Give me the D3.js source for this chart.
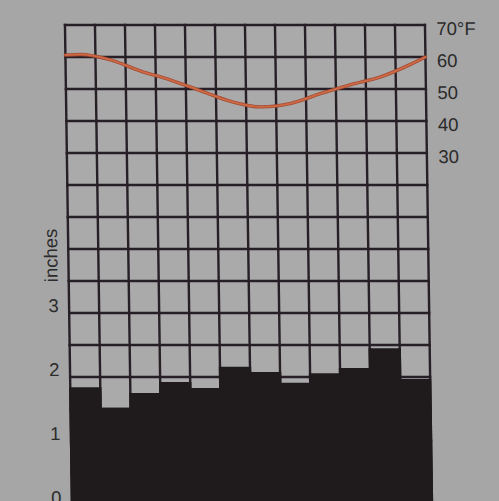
<!DOCTYPE html>
<html>
<head>
<meta charset="utf-8">
<script src="https://cdn.jsdelivr.net/npm/d3@7"></script>
<style>
  html, body { margin: 0; padding: 0; background: #a6a6a6; overflow: hidden; }
  svg { display: block; }
</style>
</head>
<body>
<svg id="chart" width="499" height="501"></svg>
<script>
// ---- data ----
const months = ["Jan","Feb","Mar","Apr","May","Jun","Jul","Aug","Sep","Oct","Nov","Dec"];
const precipInches = [1.84, 1.52, 1.75, 1.92, 1.83, 2.16, 2.08, 1.91, 2.06, 2.14, 2.45, 1.97];
const tempF = [60.8, 59.1, 55.6, 52.8, 49.4, 46.1, 44.4, 45.5, 48.6, 51.4, 53.8, 57.7];
const tempEdgeValues = [60.6, 60.0];  // where the line meets the left and right borders
const tempTicks = [70, 60, 50, 40, 30];
const tempTickLabels = ["70°F", "60", "50", "40", "30"];
const precipTicks = [0, 1, 2, 3];
const precipGridStep = 0.5;
const precipMax = 7.5;
const tempDomain = [-80, 70];
const axisTitle = "inches";

// ---- layout ----
const svg = d3.select("#chart");
const g = svg.append("g").attr("transform", "skewX(0.84)");

const x = d3.scaleBand().domain(months).range([64.6, 424.6]).padding(0);
const yP = d3.scaleLinear().domain([0, precipMax]).range([505, 25]);
const yT = d3.scaleLinear().domain(tempDomain).range([505, 25]);

const [x0, x1] = x.range();
const gridColor = "#271f26";

// plot area
g.append("rect")
  .attr("x", x0).attr("y", yP(precipMax))
  .attr("width", x1 - x0).attr("height", yP(0) - yP(precipMax))
  .attr("fill", "#aaaaab");

// horizontal grid lines
const hVals = d3.range(0, precipMax + precipGridStep / 2, precipGridStep);
g.append("g").selectAll("line").data(hVals).join("line")
  .attr("x1", x0 - 1.2).attr("x2", x1 + 1.2)
  .attr("y1", d => yP(d)).attr("y2", d => yP(d))
  .attr("stroke", gridColor).attr("stroke-width", 2.4);

// vertical grid lines
const vVals = months.map(m => x(m)).concat([x1]);
g.append("g").selectAll("line").data(vVals).join("line")
  .attr("x1", d => d).attr("x2", d => d)
  .attr("y1", yP(precipMax) - 1.2).attr("y2", yP(0))
  .attr("stroke", gridColor).attr("stroke-width", 2.4);

// precipitation bars
g.append("g").selectAll("rect").data(months).join("rect")
  .attr("x", m => x(m) - 1.2)
  .attr("width", x.bandwidth() + 2.4)
  .attr("y", (m, i) => yP(precipInches[i]))
  .attr("height", (m, i) => yP(0) - yP(precipInches[i]))
  .attr("fill", "#1f1b1c");

// temperature line
const pts = [[x0, tempEdgeValues[0]]]
  .concat(months.map((m, i) => [x(m) + x.bandwidth() / 2, tempF[i]]))
  .concat([[x1, tempEdgeValues[1]]]);
const line = d3.line().x(d => d[0]).y(d => yT(d[1])).curve(d3.curveMonotoneX);
g.append("path").datum(pts)
  .attr("d", line)
  .attr("fill", "none")
  .attr("stroke", "#a44b35")
  .attr("stroke-width", 3.4)
  .attr("stroke-linecap", "round");
g.append("path").datum(pts)
  .attr("d", line)
  .attr("fill", "none")
  .attr("stroke", "#cd6a44")
  .attr("stroke-width", 1.8)
  .attr("stroke-linecap", "round");

// right temperature axis
const fontFam = "'Liberation Sans', Arial, Helvetica, sans-serif";
const rAxis = g.append("g").attr("transform", "translate(436,0)")
  .call(d3.axisRight(yT).tickValues(tempTicks).tickSize(0).tickPadding(0)
    .tickFormat((d, i) => tempTickLabels[i]));
rAxis.select(".domain").remove();
rAxis.selectAll("text")
  .attr("dy", "0.5em")
  .attr("fill", "#2b2b2b")
  .style("font-family", fontFam)
  .style("font-size", "18.5px");

// left precipitation axis
const lAxis = g.append("g").attr("transform", "translate(49,0)")
  .call(d3.axisLeft(yP).tickValues(precipTicks).tickSize(0).tickPadding(0));
lAxis.select(".domain").remove();
lAxis.selectAll("text")
  .attr("x", 0)
  .attr("text-anchor", "middle")
  .attr("dy", "-2px")
  .attr("fill", "#2b2b2b")
  .style("font-family", fontFam)
  .style("font-size", "18.5px");

// axis title
g.append("text")
  .attr("transform", "translate(47," + yP(3.9) + ") rotate(-90)")
  .attr("text-anchor", "middle")
  .attr("dominant-baseline", "central")
  .attr("fill", "#2b2b2b")
  .style("font-family", fontFam)
  .style("font-size", "18.5px")
  .text(axisTitle);
</script>
</body>
</html>
